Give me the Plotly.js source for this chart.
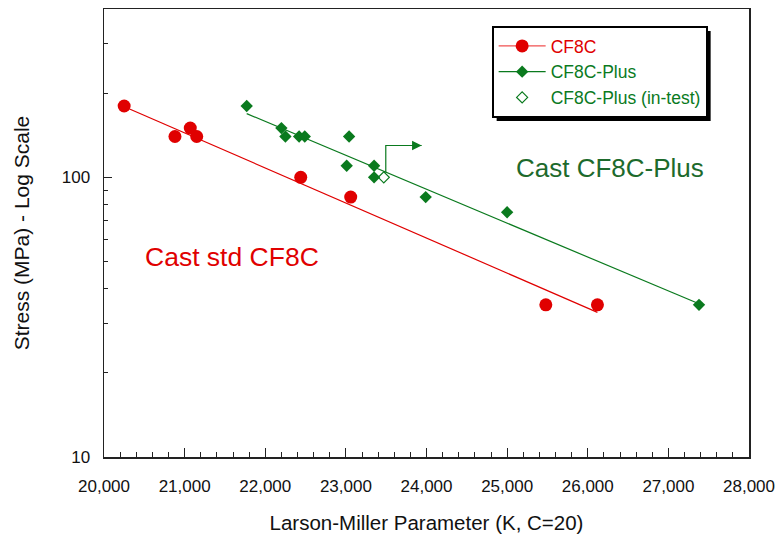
<!DOCTYPE html>
<html>
<head>
<meta charset="utf-8">
<script src="https://cdn.plot.ly/plotly-3.0.1.min.js"></script>
<style>
  html, body { margin: 0; padding: 0; background: #ffffff; }
  #chart { width: 777px; height: 535px; }
</style>
</head>
<body>
<div id="chart"></div>
<script>
// ---- data ----
var cf8cX = [20250, 20880, 21070, 21150, 22440, 23060, 25480, 26120];
var cf8cY = [180, 140, 150, 140, 100, 85, 35, 35];

var plusX = [21770, 22200, 22250, 22420, 22490, 23040, 23010, 23350, 23350, 23990, 25000, 27380];
var plusY = [180, 150, 140, 140, 140, 140, 110, 110, 100, 85, 75, 35];

var inTestX = [23470];
var inTestY = [100];

var cf8cFitX = [20310, 26120];
var cf8cFitY = [176, 32.9];

var plusFitX = [21770, 27380];
var plusFitY = [169, 35.3];

// in-test arrow (vertical leader, then arrow to the right)
var arrowX = [23495, 23495, 23940];
var arrowY = [104, 130, 130];

var xTickVals = [20000, 21000, 22000, 23000, 24000, 25000, 26000, 27000, 28000];
var xTickText = ['20,000', '21,000', '22,000', '23,000', '24,000', '25,000', '26,000', '27,000', '28,000'];
var yTickVals = [10, 100];
var yTickText = ['10', '100'];

var seriesNames = ['CF8C', 'CF8C-Plus', 'CF8C-Plus (in-test)'];
var labelStd = 'Cast std CF8C';
var labelStdPos = [21590, 52];
var labelPlus = 'Cast CF8C-Plus';
var labelPlusPos = [26280, 108];

// ---- styles ----
var RED = '#e00000';
var GREEN = '#0a7a1e';
var GREEN_TXT = '#1d6a2c';
var FONT = 'Liberation Sans, Arial, sans-serif';

var traces = [
  { x: cf8cFitX, y: cf8cFitY, mode: 'lines', line: {color: RED, width: 1.2}, showlegend: false, hoverinfo: 'skip' },
  { x: plusFitX, y: plusFitY, mode: 'lines', line: {color: GREEN, width: 1.2}, showlegend: false, hoverinfo: 'skip' },
  { x: arrowX, y: arrowY, mode: 'lines', line: {color: GREEN, width: 1.2}, showlegend: false, hoverinfo: 'skip' },
  { x: cf8cX, y: cf8cY, mode: 'markers', marker: {symbol: 'circle', size: 13, color: RED}, showlegend: false },
  { x: plusX, y: plusY, mode: 'markers', marker: {symbol: 'diamond', size: 9.5, color: GREEN}, showlegend: false },
  { x: inTestX, y: inTestY, mode: 'markers', marker: {symbol: 'diamond-open', size: 8.5, color: GREEN, line: {width: 1.2, color: GREEN}}, showlegend: false },
  // legend entries
  { x: [null], y: [null], mode: 'lines+markers', name: '<span style="color:' + RED + '">' + seriesNames[0] + '</span>',
    line: {color: '#f05050', width: 1.2}, marker: {symbol: 'circle', size: 13, color: RED} },
  { x: [null], y: [null], mode: 'lines+markers', name: '<span style="color:' + GREEN + '">' + seriesNames[1] + '</span>',
    line: {color: GREEN, width: 1.2}, marker: {symbol: 'diamond', size: 9.5, color: GREEN} },
  { x: [null], y: [null], mode: 'markers', name: '<span style="color:' + GREEN + '">' + seriesNames[2] + '</span>',
    marker: {symbol: 'diamond-open', size: 8.5, color: GREEN, line: {width: 1.2, color: GREEN}} }
];

var layout = {
  width: 777, height: 535,
  margin: {l: 104, r: 28, t: 9, b: 78, pad: 0},
  paper_bgcolor: '#ffffff', plot_bgcolor: '#ffffff',
  font: {family: FONT, size: 16, color: '#111111'},
  showlegend: true,
  legend: {
    x: 0.601, y: 0.962, xanchor: 'left', yanchor: 'top',
    bgcolor: '#ffffff', bordercolor: '#000000', borderwidth: 2,
    font: {family: FONT, size: 17.5},
    itemwidth: 47, tracegroupgap: 0
  },
  xaxis: {
    type: 'linear', range: [20000, 28000], autorange: false,
    tickvals: xTickVals, ticktext: xTickText,
    ticks: 'inside', ticklen: 9, tickwidth: 1.2, tickcolor: '#222',
    minor: {ticks: 'inside', ticklen: 5, dtick: 200, tickwidth: 1, tickcolor: '#222', showgrid: false},
    showgrid: false, zeroline: false,
    showline: true, linecolor: '#222', linewidth: 1.5, mirror: true,
    tickfont: {family: FONT, size: 17, color: '#111'},
    ticklabelstandoff: 13,
    title: {text: 'Larson-Miller Parameter (K, C=20)', font: {family: FONT, size: 20.5, color: '#111'}, standoff: 20},
    automargin: false
  },
  yaxis: {
    type: 'log', range: [1, Math.log10(400)], autorange: false,
    tickvals: yTickVals, ticktext: yTickText,
    ticks: 'inside', ticklen: 8, tickwidth: 1.2, tickcolor: '#222',
    minor: {ticks: 'inside', ticklen: 4, dtick: 'D1', tickwidth: 1, tickcolor: '#222', showgrid: false},
    showgrid: false, zeroline: false,
    showline: true, linecolor: '#222', linewidth: 1.5, mirror: true,
    tickfont: {family: FONT, size: 17, color: '#111'},
    ticklabelstandoff: 9,
    title: {text: 'Stress (MPa) - Log Scale', font: {family: FONT, size: 21, color: '#111'}, standoff: 26},
    automargin: false
  },
  annotations: [
    { x: labelStdPos[0], y: Math.log10(labelStdPos[1]), xref: 'x', yref: 'y', text: labelStd, showarrow: false,
      font: {family: FONT, size: 26.5, color: RED} },
    { x: labelPlusPos[0], y: Math.log10(labelPlusPos[1]), xref: 'x', yref: 'y', text: labelPlus, showarrow: false,
      font: {family: FONT, size: 26, color: GREEN_TXT} },
    { x: arrowX[2], y: Math.log10(arrowY[2]), ax: arrowX[1], ay: Math.log10(arrowY[1]),
      xref: 'x', yref: 'y', axref: 'x', ayref: 'y', text: '', showarrow: true,
      arrowhead: 2, arrowsize: 1.6, arrowwidth: 1.2, arrowcolor: GREEN, standoff: 0 }
  ]
};

Plotly.newPlot('chart', traces, layout, {displayModeBar: false, staticPlot: true}).then(function (gd) {
  var bg = document.querySelector('.legend .bg');
  if (!bg) return;
  var r = bg.getBoundingClientRect();
  var c = gd.getBoundingClientRect();
  var fl = gd._fullLayout;
  var L = fl.margin.l, T = fl.margin.t, W = fl._size.w, H = fl._size.h;
  var off = 4;
  function px2x(p) { return (p - c.left - L) / W; }
  function px2y(p) { return 1 - (p - c.top - T) / H; }
  Plotly.relayout(gd, {shapes: [{
    type: 'rect', xref: 'paper', yref: 'paper', layer: 'above',
    x0: px2x(r.left + off), x1: px2x(r.right + off),
    y0: px2y(r.top + off), y1: px2y(r.bottom + off),
    fillcolor: '#000000', line: {width: 0}
  }]});
});
</script>
</body>
</html>
